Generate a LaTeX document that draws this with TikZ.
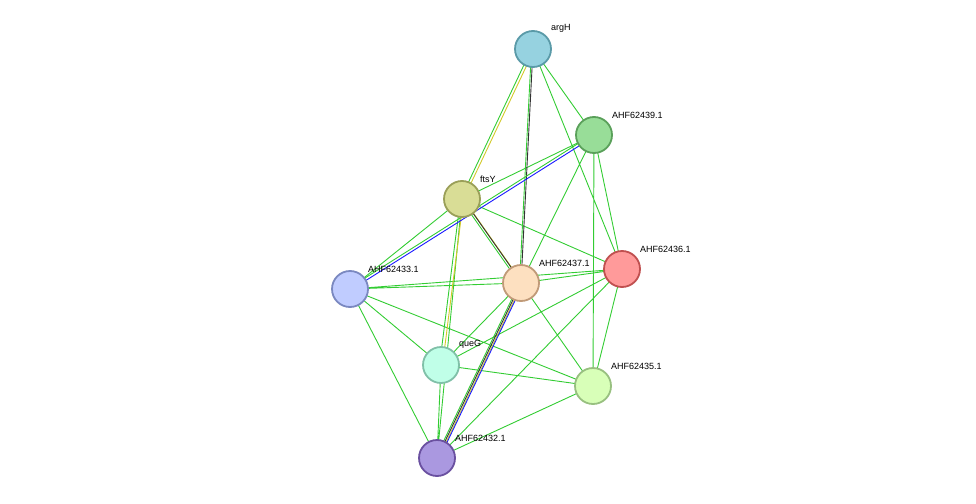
\documentclass[tikz,border=0pt]{standalone}
\usepackage{fontspec}
\setmainfont{Liberation Sans}
\begin{document}
\begin{tikzpicture}[x=1pt,y=-1pt,
  prot/.style={circle,minimum size=36pt,inner sep=0pt,line width=1.8pt},
  lab/.style={font=\fontsize{9}{10}\selectfont,anchor=south west,inner sep=0pt},
  e/.style={draw=green!70!black!90,line width=0.9pt},
  ey/.style={draw=yellow!80!black,line width=0.9pt},
  ek/.style={draw=black!80,line width=0.9pt},
  eb/.style={draw=blue!90,line width=0.9pt}]
\useasboundingbox (0,0) rectangle (976,503);
\definecolor{gr}{HTML}{33CC33}
\tikzset{e/.style={draw=gr,line width=0.9pt}}
\coordinate (argH) at (533,49);
\coordinate (n439) at (594,135);
\coordinate (ftsY) at (462,199);
\coordinate (n436) at (622,269);
\coordinate (n437) at (521,283);
\coordinate (n433) at (350,289);
\coordinate (queG) at (441,365);
\coordinate (n435) at (593,386);
\coordinate (n432) at (437,458);
% edges
\path[e] (argH)--(n439) (argH)--(n436) (n439)--(ftsY) (n439)--(n437) (n439)--(n436) (n439)--(n435)
 (ftsY)--(n433) (ftsY)--(n436) (ftsY)--(n432) (n433)--(n437) (n433)--(n436) (n433)--(queG)
 (n433)--(n435) (n433)--(n432) (n437)--(n436) (n437)--(queG) (n437)--(n435) (n436)--(queG)
 (n436)--(n435) (n436)--(n432) (queG)--(n435) (queG)--(n432) (n435)--(n432);
\path[e,transform canvas={shift={(-1.5,0)}}] (argH)--(ftsY) (ftsY)--(queG) (argH)--(n437) (ftsY)--(n437) (n437)--(n432);
\path[ey,transform canvas={shift={(1.5,0)}}] (argH)--(ftsY) (ftsY)--(queG) (ftsY)--(n437) (n437)--(n432);
\path[ek] (argH)--(n437) (n437)--(n432);
\path[ek,transform canvas={shift={(0,-1.5)}}] (ftsY)--(n437);
\path[e,transform canvas={shift={(0,-1.5)}}] (n439)--(n433);
\path[eb,transform canvas={shift={(0,1.5)}}] (n439)--(n433);
\path[eb,transform canvas={shift={(2.5,0)}}] (n437)--(n432);
% nodes
\node[prot,fill={rgb,255:red,150;green,210;blue,224},draw={rgb,255:red,90;green,154;blue,168}] (a) at (argH) {};
\node[prot,fill={rgb,255:red,152;green,221;blue,152},draw={rgb,255:red,90;green,160;blue,90}] (b) at (n439) {};
\node[prot,fill={rgb,255:red,217;green,221;blue,150},draw={rgb,255:red,154;green,159;blue,88}] (c) at (ftsY) {};
\node[prot,fill={rgb,255:red,255;green,154;blue,154},draw={rgb,255:red,192;green,80;blue,80}] (d) at (n436) {};
\node[prot,fill={rgb,255:red,253;green,224;blue,192},draw={rgb,255:red,192;green,154;blue,120}] (f) at (n437) {};
\node[prot,fill={rgb,255:red,192;green,204;blue,255},draw={rgb,255:red,122;green,136;blue,192}] (g) at (n433) {};
\node[prot,fill={rgb,255:red,192;green,255;blue,232},draw={rgb,255:red,128;green,192;blue,168}] (h) at (queG) {};
\node[prot,fill={rgb,255:red,216;green,255;blue,184},draw={rgb,255:red,152;green,192;blue,128}] (i) at (n435) {};
\node[prot,fill={rgb,255:red,170;green,152;blue,224},draw={rgb,255:red,106;green,80;blue,160}] (j) at (n432) {};
% labels
\node[lab] (la) at (551,33) {argH};
\node[lab] (lb) at (612,119) {AHF62439.1};
\node[lab] (lc) at (480,183) {ftsY};
\node[lab] (ld) at (640,253) {AHF62436.1};
\node[lab] (lf) at (539,267) {AHF62437.1};
\node[lab] (lg) at (368,273) {AHF62433.1};
\node[lab] (lh) at (459,349) {queG};
\node[lab] (li) at (611,370) {AHF62435.1};
\node[lab] (lj) at (455,442) {AHF62432.1};
\end{tikzpicture}
\end{document}
